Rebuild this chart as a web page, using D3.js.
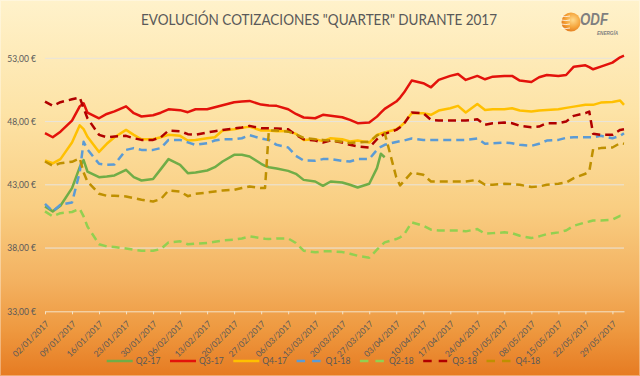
<!DOCTYPE html>
<html>
<head>
<meta charset="utf-8">
<script src="https://cdn.jsdelivr.net/npm/d3@7"></script>
<style>
  html, body { margin: 0; padding: 0; }
  svg { display: block; }
</style>
</head>
<body>
<svg id="chart" width="640" height="376"></svg>
<script>
// ---------------- DATA ----------------
const dates = [
  "2017-01-02","2017-01-04","2017-01-06","2017-01-09","2017-01-11","2017-01-12","2017-01-13",
  "2017-01-16","2017-01-18","2017-01-20","2017-01-23","2017-01-25","2017-01-27",
  "2017-01-30","2017-02-01","2017-02-03","2017-02-06","2017-02-08","2017-02-10",
  "2017-02-13","2017-02-15","2017-02-17","2017-02-20","2017-02-22","2017-02-24",
  "2017-02-27","2017-02-28","2017-03-01","2017-03-03","2017-03-06","2017-03-08","2017-03-10",
  "2017-03-13","2017-03-15","2017-03-17","2017-03-20","2017-03-22","2017-03-24",
  "2017-03-27","2017-03-29","2017-03-30","2017-03-31","2017-04-03","2017-04-04","2017-04-05","2017-04-07",
  "2017-04-10","2017-04-12","2017-04-14","2017-04-17","2017-04-19","2017-04-21",
  "2017-04-24","2017-04-26","2017-04-28","2017-05-01","2017-05-03","2017-05-05",
  "2017-05-08","2017-05-10","2017-05-12","2017-05-15","2017-05-17","2017-05-19",
  "2017-05-22","2017-05-23","2017-05-24","2017-05-26","2017-05-29","2017-05-31","2017-06-01"
];

const q2_17 = [41.29,40.9,41.34,42.74,44.4,44.95,44.05,43.6,43.66,43.74,44.18,43.6,43.34,43.45,44.24,45.03,44.58,43.92,43.97,44.13,
  44.39,44.84,45.37,45.37,45.24,44.66,44.5,44.39,44.29,44.1,43.87,43.39,43.26,42.92,43.26,43.18,43.0,42.79,43.08,44.32,45.45,45.18,
  null,null,null,null,null,null,null,null,null,null,null,null,null,null,null,null,null,null,null,null,null,null,null,null,null,null,null,null,null];

const q3_17 = [47.08,46.76,47.2,48.08,49.2,49.45,48.7,48.26,48.6,48.8,49.2,48.66,48.4,48.5,48.7,48.97,48.9,48.74,48.97,48.97,
  49.13,49.29,49.53,49.58,49.63,49.34,49.3,49.26,49.24,48.97,48.6,48.32,48.26,48.53,48.45,48.34,48.13,47.87,47.92,48.39,
  48.7,49.0,49.58,49.9,50.29,51.24,51.03,50.71,51.29,51.61,51.76,51.29,51.61,51.34,51.55,51.61,51.61,51.24,51.13,51.5,
  51.68,51.61,51.68,52.34,52.45,52.3,52.13,52.34,52.66,53.08,53.21];

const q4_17 = [44.92,44.7,45.03,46.34,47.7,47.4,46.8,45.6,46.24,46.76,47.34,46.95,46.6,46.6,46.76,46.95,46.87,46.5,46.55,46.68,
  46.76,47.29,47.39,47.5,47.6,47.29,47.29,47.29,47.24,47.26,47.03,46.55,46.6,46.45,46.68,46.6,46.42,46.5,46.34,46.95,
  47.05,47.13,47.39,47.6,47.87,48.66,48.66,48.53,48.87,49.05,49.24,48.71,49.39,48.92,48.97,48.97,49.05,48.87,48.79,48.87,
  48.92,48.97,49.08,49.18,49.32,49.32,49.32,49.5,49.55,49.66,49.32];

const q1_18 = [41.5,40.9,41.42,41.6,44.0,46.4,45.8,44.66,44.58,44.6,45.76,45.9,45.76,45.76,45.9,46.55,46.55,46.35,46.16,46.29,
  46.5,46.6,46.6,46.68,46.92,46.66,46.6,46.55,46.16,45.95,45.29,44.92,44.9,45.03,45.03,44.9,44.84,45.03,45.03,45.76,
  46.0,46.16,46.39,46.45,46.5,46.66,46.55,46.55,46.55,46.55,46.55,46.55,46.66,46.24,46.29,46.34,46.29,46.16,46.08,46.24,
  46.5,46.55,46.71,46.76,46.76,46.76,46.76,46.87,46.68,46.87,47.08];

const q2_18 = [40.9,40.5,40.76,40.85,41.1,40.5,39.7,38.3,38.13,38.08,37.97,37.87,37.79,37.79,37.92,38.45,38.53,38.3,38.34,38.4,
  38.5,38.6,38.66,38.76,38.92,38.79,38.74,38.71,38.76,38.76,38.4,37.79,37.66,37.74,37.74,37.68,37.55,37.39,37.24,37.87,
  38.18,38.45,38.71,38.85,39.05,40.03,39.76,39.45,39.39,39.39,39.39,39.32,39.5,39.13,39.18,39.24,39.18,38.97,38.79,38.92,
  39.1,39.24,39.39,39.76,40.03,40.1,40.18,40.18,40.24,40.55,40.55];

const q3_18 = [49.58,49.24,49.53,49.76,49.9,49.05,48.26,46.95,46.76,46.82,46.87,46.68,46.55,46.55,46.76,47.29,47.24,47.0,46.95,47.13,
  47.24,47.34,47.45,47.53,47.66,47.47,47.47,47.47,47.45,47.39,46.95,46.6,46.5,46.34,46.5,46.34,46.16,46.03,45.95,46.6,
  46.85,47.03,47.34,47.55,47.82,48.71,48.66,48.13,48.08,48.08,48.08,48.08,48.18,47.74,47.87,47.92,47.87,47.66,47.55,47.6,
  47.87,47.87,48.0,48.45,48.66,48.79,47.03,46.95,46.95,47.34,47.39];

const q4_18 = [44.84,44.5,44.71,44.82,45.1,43.97,43.26,42.29,42.13,42.13,42.08,41.95,41.82,41.68,41.87,42.55,42.47,42.1,42.29,42.39,
  42.47,42.55,42.6,42.74,42.87,42.74,42.74,47.3,47.3,47.2,47.0,46.7,46.6,46.55,46.5,46.4,46.3,46.35,46.4,46.9,
  47.05,47.1,43.6,42.95,43.3,43.97,43.79,43.26,43.26,43.26,43.26,43.26,43.39,43.0,43.0,43.08,43.05,43.0,42.82,42.87,
  43.0,43.08,43.18,43.53,43.87,44.05,45.82,45.9,45.95,46.29,46.24];

const seriesNames = ["Q2-17","Q3-17","Q4-17","Q1-18","Q2-18","Q3-18","Q4-18"];
const seriesValues = [q2_17, q3_17, q4_17, q1_18, q2_18, q3_18, q4_18];
const seriesColors = ["#70AD47","#E3120B","#FFC000","#5B9BD5","#92D050","#B00000","#BF9000"];
const seriesDashed = [false,false,false,true,true,true,true];

const xTickDates = ["2017-01-02","2017-01-09","2017-01-16","2017-01-23","2017-01-30","2017-02-06","2017-02-13",
  "2017-02-20","2017-02-27","2017-03-06","2017-03-13","2017-03-20","2017-03-27","2017-04-03","2017-04-10",
  "2017-04-17","2017-04-24","2017-05-01","2017-05-08","2017-05-15","2017-05-22","2017-05-29"];
const yTicks = [33, 38, 43, 48, 53];
const titleText = "EVOLUCIÓN COTIZACIONES \"QUARTER\"  DURANTE 2017";

// ---------------- DRAW ----------------
const svg = d3.select("#chart");
const W = 640, H = 376;
const parse = d3.utcParse("%Y-%m-%d");
const fmt = d3.utcFormat("%d/%m/%Y");
const FONT = "Lato, 'Open Sans', 'Liberation Sans', sans-serif";
const TXT = "#595959";

const defs = svg.append("defs");
const bg = defs.append("linearGradient").attr("id","bg").attr("x1",0).attr("y1",0).attr("x2",0).attr("y2",1);
[[0,"#FFF2CB"],[0.3,"#FDE3A6"],[0.55,"#F9CE82"],[0.75,"#F3B160"],[0.88,"#EE983F"],[1,"#E67B22"]]
  .forEach(([o,c]) => bg.append("stop").attr("offset",o).attr("stop-color",c));
const sph = defs.append("radialGradient").attr("id","sph").attr("cx","60%").attr("cy","40%").attr("r","65%");
[[0,"#FFD98A"],[0.6,"#F5A43A"],[1,"#E27A1E"]].forEach(([o,c]) => sph.append("stop").attr("offset",o).attr("stop-color",c));

svg.append("rect").attr("width",W).attr("height",H).attr("fill","url(#bg)");
svg.append("rect").attr("x",0.5).attr("y",0.5).attr("width",W-1).attr("height",H-1)
  .attr("fill","none").attr("stroke","rgba(255,255,255,0.35)");

const x = d3.scaleUtc().domain([parse("2017-01-02"), parse("2017-06-01")]).range([45, 624]);
const y = d3.scaleLinear().domain([33, 53]).range([311.3, 58.3]);

// gridlines
svg.append("g").selectAll("line").data(yTicks.filter(v => v !== 33)).join("line")
  .attr("x1", 45).attr("x2", 624)
  .attr("y1", d => y(d)).attr("y2", d => y(d))
  .attr("stroke", "#E8E4DC").attr("stroke-width", 1);

// y axis labels
const yAxis = d3.axisLeft(y).tickValues(yTicks).tickSize(0).tickPadding(0)
  .tickFormat(d => d3.format(".2f")(d).replace(".", ",") + " €");
const gy = svg.append("g").attr("transform","translate(36,0)").call(yAxis);
gy.select(".domain").remove();
gy.selectAll("text").attr("fill", TXT).style("font-family", FONT).style("font-size","8.5px");

// x axis
const xAxis = d3.axisBottom(x).tickValues(xTickDates.map(parse)).tickSize(3).tickSizeOuter(0).tickFormat(fmt);
const gx = svg.append("g").attr("transform","translate(0,311.3)").call(xAxis);
gx.select(".domain").attr("stroke","#F4E3C8").attr("stroke-width",1);
gx.selectAll(".tick line").attr("stroke","#F4E3C8");
gx.selectAll("text")
  .attr("fill", TXT).style("font-family", FONT).style("font-size","8.5px")
  .attr("text-anchor","end").attr("dy", null).attr("y", null)
  .attr("transform","translate(4,13) rotate(-45)");

// lines
const line = d3.line()
  .defined(d => d.v !== null)
  .x(d => x(d.date))
  .y(d => y(d.v));

const series = seriesNames.map((name, i) => ({
  name, color: seriesColors[i], dashed: seriesDashed[i],
  points: dates.map((dt, j) => ({ date: parse(dt), v: seriesValues[i][j] }))
}));

svg.append("g").selectAll("path").data(series).join("path")
  .attr("d", s => line(s.points))
  .attr("fill","none")
  .attr("stroke", s => s.color)
  .attr("stroke-width", 2.5)
  .attr("stroke-linejoin","round")
  .attr("stroke-dasharray", s => s.dashed ? "8,5" : null);

// legend
const lg = svg.append("g").selectAll("g").data(series).join("g")
  .attr("transform", (s, i) => `translate(${106.7 + i * 63.3},361)`);
lg.append("line").attr("x1",0).attr("x2",26).attr("y1",0).attr("y2",0)
  .attr("stroke", s => s.color).attr("stroke-width",2.5)
  .attr("stroke-dasharray", s => s.dashed ? "8.5,7" : null);
lg.append("text").attr("x",29).attr("y",0).attr("dy","0.35em")
  .attr("fill", TXT).style("font-family", FONT).style("font-size","8.5px")
  .text(s => s.name);

// title
svg.append("text").attr("x", 319).attr("y", 25)
  .attr("text-anchor","middle")
  .attr("fill", TXT).style("font-family", FONT).style("font-size","16px")
  .attr("textLength", 356).attr("lengthAdjust","spacingAndGlyphs")
  .text(titleText);

// logo
const logo = svg.append("g");
logo.append("circle").attr("cx",571).attr("cy",22).attr("r",9.5).attr("fill","url(#sph)");
[16,20,24,28].forEach(yy => {
  logo.append("path").attr("d",`M561.5,${yy} Q566,${yy+1.2} 570,${yy}`)
    .attr("stroke","rgba(255,255,255,0.85)").attr("stroke-width",0.9).attr("fill","none");
});
logo.append("text").attr("x",580).attr("y",25)
  .attr("fill","#7F7F7F").style("font-family","'Liberation Sans', Arial, sans-serif")
  .style("font-weight","bold").style("font-style","italic").style("font-size","16px")
  .attr("textLength",28).attr("lengthAdjust","spacingAndGlyphs").text("ODF");
logo.append("text").attr("x",597).attr("y",35)
  .attr("fill","#7F7F7F").style("font-family","'Liberation Sans', Arial, sans-serif")
  .style("font-weight","bold").style("font-style","italic").style("font-size","5.5px")
  .attr("textLength",21).attr("lengthAdjust","spacingAndGlyphs").text("ENERGÍA");
</script>
</body>
</html>
